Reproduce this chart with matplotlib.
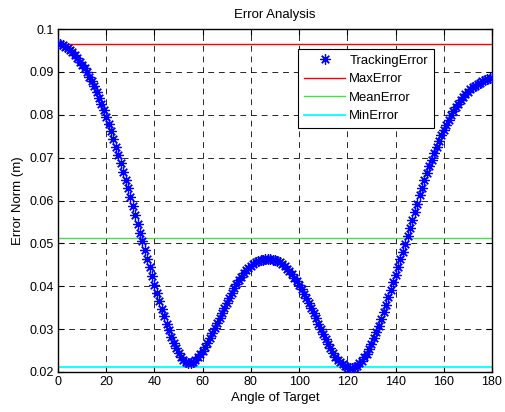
import numpy as np
import matplotlib
matplotlib.use("Agg")
import matplotlib.pyplot as plt

plt.rcParams['font.family'] = ['Liberation Sans', 'DejaVu Sans']

angles = list(range(0, 181))
tracking_error = [
    0.0965, 0.0964, 0.0962, 0.0959, 0.0956, 0.0951, 0.0946, 0.0939, 0.0932, 0.0924,
    0.0915, 0.0908, 0.0899, 0.0889, 0.0878, 0.0866, 0.0854, 0.0840, 0.0826, 0.0811,
    0.0795, 0.0778, 0.0761, 0.0743, 0.0725, 0.0706, 0.0687, 0.0667, 0.0648, 0.0628,
    0.0608, 0.0587, 0.0567, 0.0546, 0.0525, 0.0505, 0.0484, 0.0464, 0.0444, 0.0424,
    0.0404, 0.0385, 0.0366, 0.0348, 0.0330, 0.0313, 0.0297, 0.0282, 0.0268, 0.0256,
    0.0245, 0.0236, 0.0229, 0.0224, 0.0222, 0.0222, 0.0224, 0.0228, 0.0234, 0.0241,
    0.0249, 0.0258, 0.0268, 0.0279, 0.0290, 0.0302, 0.0314, 0.0326, 0.0338, 0.0350,
    0.0362, 0.0373, 0.0384, 0.0395, 0.0405, 0.0414, 0.0422, 0.0430, 0.0437, 0.0443,
    0.0448, 0.0452, 0.0456, 0.0459, 0.0461, 0.0462, 0.0463, 0.0463, 0.0463, 0.0462,
    0.0461, 0.0459, 0.0456, 0.0452, 0.0447, 0.0441, 0.0435, 0.0428, 0.0420, 0.0412,
    0.0403, 0.0393, 0.0383, 0.0372, 0.0361, 0.0349, 0.0337, 0.0325, 0.0313, 0.0301,
    0.0289, 0.0277, 0.0266, 0.0255, 0.0245, 0.0236, 0.0229, 0.0223, 0.0218, 0.0214,
    0.0212, 0.0210, 0.0210, 0.0212, 0.0215, 0.0220, 0.0226, 0.0234, 0.0243, 0.0254,
    0.0266, 0.0279, 0.0293, 0.0308, 0.0324, 0.0340, 0.0357, 0.0374, 0.0391, 0.0409,
    0.0427, 0.0445, 0.0463, 0.0481, 0.0499, 0.0517, 0.0536, 0.0555, 0.0574, 0.0593,
    0.0612, 0.0630, 0.0648, 0.0665, 0.0680, 0.0695, 0.0710, 0.0724, 0.0738, 0.0752,
    0.0765, 0.0777, 0.0788, 0.0799, 0.0809, 0.0818, 0.0826, 0.0834, 0.0841, 0.0848,
    0.0854, 0.0859, 0.0864, 0.0868, 0.0872, 0.0875, 0.0878, 0.0881, 0.0883, 0.0885,
    0.0886,
]
max_error = 0.0965
mean_error = 0.05135
min_error = 0.0212

x_ticks = [0, 20, 40, 60, 80, 100, 120, 140, 160, 180]
y_ticks = [0.02, 0.03, 0.04, 0.05, 0.06, 0.07, 0.08, 0.09, 0.1]
y_ticklabels = ['0.02', '0.03', '0.04', '0.05', '0.06', '0.07', '0.08', '0.09', '0.1']

fig = plt.figure(figsize=(5.06, 4.12), dpi=100)
ax = fig.add_axes([58/506, 1-372/412, 434/506, 343/412])

asterisk = (8, 2, 0)
ax.plot(angles, tracking_error, linestyle='none', marker=asterisk, color='#0000ff',
        markersize=7.5, markeredgewidth=0.9, label='TrackingError', zorder=3)
ax.plot([angles[0], angles[-1]], [max_error, max_error], color='#ff0000', lw=1.0, label='MaxError')
ax.plot([angles[0], angles[-1]], [mean_error, mean_error], color='#44e044', lw=1.0, label='MeanError')
ax.plot([angles[0], angles[-1]], [min_error, min_error], color='#00ffff', lw=1.3, label='MinError')

ax.set_xlim(0, 180)
ax.set_ylim(0.02, 0.1)
ax.set_xticks(x_ticks)
ax.set_yticks(y_ticks)
ax.set_yticklabels(y_ticklabels)
ax.tick_params(direction='in', top=True, right=True, labelsize=9, length=4, width=0.8, pad=3)
ax.grid(True, color='black', linestyle=(0, (6, 5)), linewidth=0.7, alpha=0.85)
for s in ax.spines.values():
    s.set_linewidth(1.0)

ax.set_title('Error Analysis', fontsize=9.5, pad=8)
ax.set_xlabel('Angle of Target', fontsize=9.5, labelpad=3)
ax.set_ylabel('Error Norm (m)', fontsize=9.5, labelpad=4)

leg = ax.legend(loc='upper right', bbox_to_anchor=(0.866, 0.942), fontsize=9.4,
                frameon=True, fancybox=False, edgecolor='black', framealpha=1,
                handlelength=3.1, borderpad=0.45, labelspacing=0.48, handletextpad=0.35,
                borderaxespad=0)
leg.get_frame().set_linewidth(0.8)

fig.savefig('out.png', dpi=100)
